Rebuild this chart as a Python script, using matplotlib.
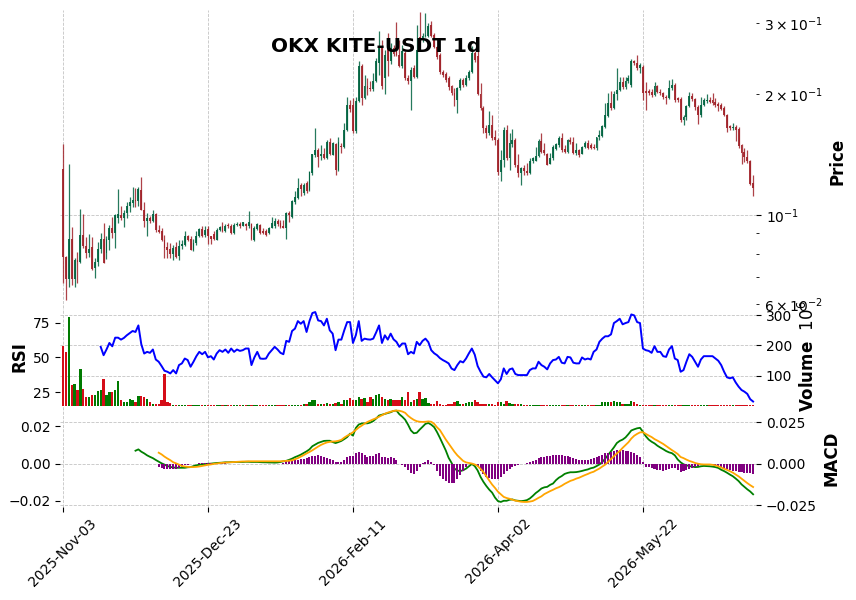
import numpy as np
import matplotlib
matplotlib.use("Agg")
import matplotlib.pyplot as plt

# OKX KITE-USDT daily candles, 2025-11-03 .. 2026-06-29
opens = [
    .1302, .0786, .0693, .0871, .0693, .0773, .0764, .0892, .0837, .0805,
    .0830, .0738, .0764, .0823, .0871, .0806, .0867, .0930, .0902, .0983,
    .1000, .0983, .1012, .1053, .1071, .1090, .1083, .1154, .1029, .0966,
    .0983, .0966, .1006, .0918, .0910, .0867, .0830, .0823, .0800, .0833,
    .0791, .0837, .0842, .0887, .0871, .0818, .0850, .0887, .0925, .0889,
    .0923, .0884, .0895, .0867, .0918, .0939, .0910, .0944, .0939, .0900,
    .0944, .0952, .0939, .0950, .0939, .0950, .0867, .0923, .0944, .0910,
    .0910, .0900, .0929, .0936, .0966, .0953, .0940, .0929, .1010, .0990,
    .1077, .1104, .1188, .1133, .1198, .1154, .1271, .1410, .1451, .1402,
    .1418, .1388, .1522, .1410, .1500, .1294, .1485, .1473, .1630, .1880,
    .1878, .1620, .1916, .2345, .1955, .2092, .2070, .2055, .2155, .2389,
    .2603, .2190, .2757, .2420, .2600, .2710, .2505, .2345, .2530, .2192,
    .2150, .2321, .2205, .2780, .2726, .2790, .2790, .2970, .2805, .2618,
    .2501, .2269, .2243, .2192, .2094, .2012, .1932, .2070, .2167, .2106,
    .2192, .2269, .2530, .2480, .2000, .1846, .1646, .1600, .1675, .1560,
    .1540, .1282, .1370, .1627, .1388, .1500, .1537, .1332, .1272, .1307,
    .1290, .1270, .1365, .1365, .1402, .1530, .1451, .1418, .1340, .1383,
    .1460, .1493, .1554, .1460, .1438, .1537, .1520, .1425, .1447, .1420,
    .1480, .1511, .1493, .1480, .1468, .1563, .1572, .1660, .1763, .1895,
    .1850, .2000, .2047, .2142, .2082, .2155, .2110, .2410, .2395, .2321,
    .2330, .2035, .2035, .2023, .1989, .2094, .2025, .2015, .1966, .1950,
    .2068, .2106, .1950, .1940, .1723, .1756, .1867, .1977, .1940, .1860,
    .1773, .1878, .1925, .1932, .1932, .1915, .1888, .1878, .1846, .1773,
    .1665, .1646, .1660, .1634, .1493, .1433, .1397, .1365, .1201,
]
highs = [
    .1502, .0792, .1339, .0933, .0782, .0809, .1035, .1006, .0881, .0897,
    .0881, .0782, .0857, .0902, .0955, .0887, .0944, .0989, .1003, .1161,
    .1053, .1029, .1077, .1109, .1174, .1167, .1174, .1243, .1077, .1012,
    .0994, .1029, .1012, .0944, .0928, .0892, .0857, .0852, .0842, .0857,
    .0867, .0867, .0910, .0892, .0885, .0871, .0910, .0928, .0939, .0936,
    .0939, .0887, .0910, .0926, .0940, .0962, .0947, .0953, .0947, .0953,
    .0958, .0962, .0962, .0953, .1023, .0953, .0936, .0953, .0947, .0930,
    .0925, .0934, .0990, .0985, .0977, .0972, .0972, .1016, .1020, .1090,
    .1148, .1234, .1204, .1204, .1215, .1287, .1416, .1649, .1466, .1497,
    .1466, .1537, .1550, .1517, .1507, .1567, .1511, .1692, .1962, .1930,
    .1950, .1970, .2410, .2375, .2232, .2190, .2150, .2255, .2460, .2875,
    .2730, .2580, .2835, .2680, .2650, .3022, .2730, .2655, .2560, .2230,
    .2340, .2360, .2970, .3199, .2840, .3180, .3000, .3040, .2830, .2640,
    .2530, .2290, .2270, .2220, .2110, .2070, .2082, .2190, .2190, .2230,
    .2300, .2640, .2560, .2570, .2126, .1867, .1675, .1810, .1773, .1627,
    .1550, .1451, .1660, .1675, .1595, .1633, .1550, .1418, .1320, .1332,
    .1350, .1385, .1397, .1480, .1545, .1595, .1507, .1425, .1425, .1493,
    .1513, .1570, .1595, .1493, .1545, .1563, .1563, .1511, .1460, .1485,
    .1528, .1537, .1507, .1500, .1567, .1627, .1675, .1895, .2010, .2030,
    .2030, .2321, .2200, .2205, .2200, .2230, .2440, .2431, .2501, .2385,
    .2362, .2140, .2060, .2060, .2142, .2106, .2055, .2025, .1989, .2167,
    .2175, .2126, .1970, .1970, .1773, .1878, .2025, .2008, .1950, .1878,
    .1970, .1950, .1997, .1970, .2012, .1950, .1915, .1899, .1862, .1783,
    .1675, .1694, .1675, .1656, .1502, .1468, .1451, .1370, .1257,
]
lows = [
    .0677, .0615, .0662, .0670, .0662, .0677, .0760, .0828, .0782, .0786,
    .0730, .0697, .0745, .0805, .0758, .0777, .0818, .0876, .0828, .0955,
    .0972, .0933, .0983, .1017, .1047, .1047, .1053, .1029, .0933, .0887,
    .0955, .0961, .0909, .0902, .0859, .0782, .0782, .0782, .0773, .0782,
    .0773, .0823, .0837, .0862, .0816, .0812, .0842, .0880, .0882, .0880,
    .0845, .0845, .0867, .0864, .0910, .0906, .0906, .0926, .0895, .0895,
    .0936, .0926, .0936, .0918, .0926, .0867, .0862, .0918, .0895, .0897,
    .0884, .0895, .0926, .0930, .0936, .0926, .0926, .0870, .0962, .0985,
    .1065, .1096, .1117, .1121, .1133, .1148, .1257, .1397, .1320, .1370,
    .1378, .1378, .1407, .1407, .1257, .1287, .1427, .1468, .1615, .1800,
    .1600, .1595, .1910, .1880, .1940, .1993, .2032, .2040, .2142, .2235,
    .2062, .2000, .2215, .2380, .2480, .2490, .2335, .2321, .2170, .2120,
    .1820, .2190, .2190, .2700, .2700, .2770, .2770, .2770, .2600, .2440,
    .2240, .2200, .2140, .2050, .1990, .1867, .1794, .2050, .2082, .2090,
    .2170, .2250, .2400, .1990, .1825, .1600, .1554, .1581, .1537, .1493,
    .1257, .1215, .1320, .1370, .1294, .1480, .1320, .1245, .1188, .1257,
    .1257, .1263, .1350, .1360, .1392, .1425, .1410, .1332, .1337, .1370,
    .1451, .1480, .1438, .1430, .1425, .1500, .1418, .1410, .1397, .1418,
    .1468, .1460, .1460, .1460, .1451, .1537, .1563, .1649, .1756, .1830,
    .1840, .1932, .2030, .2058, .2058, .2130, .2082, .2362, .2295, .2255,
    .1932, .1830, .1989, .1970, .1977, .2010, .1989, .1941, .1888, .1940,
    .2047, .1913, .1913, .1705, .1675, .1723, .1860, .1925, .1830, .1684,
    .1756, .1867, .1895, .1905, .1878, .1860, .1815, .1820, .1763, .1605,
    .1627, .1627, .1530, .1466, .1339, .1355, .1347, .1188, .1115,
]
closes = [
    .0786, .0693, .0871, .0693, .0773, .0764, .0892, .0837, .0805, .0823,
    .0734, .0764, .0823, .0871, .0760, .0871, .0930, .0902, .1000, .1006,
    .0983, .1012, .1053, .1077, .1090, .1083, .1161, .1029, .0966, .0983,
    .0966, .1006, .0918, .0907, .0867, .0828, .0818, .0800, .0828, .0787,
    .0837, .0847, .0887, .0867, .0818, .0850, .0887, .0923, .0887, .0918,
    .0884, .0870, .0871, .0918, .0935, .0910, .0940, .0936, .0900, .0944,
    .0952, .0939, .0958, .0936, .0958, .0870, .0926, .0947, .0903, .0903,
    .0892, .0929, .0953, .0966, .0947, .0934, .0929, .1010, .1000, .1083,
    .1110, .1170, .1161, .1188, .1148, .1282, .1416, .1451, .1397, .1418,
    .1388, .1522, .1416, .1507, .1294, .1522, .1473, .1630, .1880, .1840,
    .1620, .1916, .2345, .1955, .2092, .2055, .2055, .2160, .2410, .2603,
    .2090, .2505, .2420, .2600, .2520, .2505, .2345, .2555, .2192, .2150,
    .2295, .2205, .2574, .2726, .2790, .2805, .2955, .2790, .2618, .2473,
    .2269, .2230, .2167, .2082, .2012, .1932, .2070, .2167, .2106, .2192,
    .2269, .2530, .2431, .2000, .1846, .1646, .1600, .1675, .1554, .1537,
    .1282, .1370, .1627, .1388, .1507, .1537, .1332, .1270, .1307, .1290,
    .1270, .1365, .1385, .1402, .1530, .1438, .1425, .1332, .1383, .1473,
    .1502, .1554, .1451, .1438, .1537, .1520, .1425, .1447, .1410, .1480,
    .1511, .1468, .1468, .1468, .1563, .1581, .1662, .1773, .1895, .1850,
    .2000, .2047, .2142, .2082, .2155, .2190, .2410, .2385, .2320, .2362,
    .2015, .2015, .2008, .1989, .2094, .2020, .2010, .1963, .1950, .2068,
    .2106, .1932, .1932, .1723, .1756, .1867, .1977, .1940, .1853, .1773,
    .1878, .1932, .1932, .1915, .1895, .1878, .1867, .1835, .1773, .1646,
    .1646, .1660, .1627, .1485, .1430, .1397, .1363, .1194, .1170,
]
# volume in units of 1e6
volume_m = [
    198, 179, 295, 69, 74, 54, 124, 58, 30, 32,
    36, 38, 50, 54, 91, 36, 47, 47, 54, 82,
    22, 15, 13, 24, 19, 13, 35, 35, 30, 24,
    13, 8, 6, 8, 21, 105, 13, 10, 5.2, 4.1,
    4.0, 4.6, 3.5, 4.2, 4.5, 3.9, 3.6, 4.4, 5.1, 3.8,
    4.2, 4.9, 3.7, 3.0, 2.9, 3.2, 2.8, 3.1, 2.7, 3.3,
    2.9, 3.0, 2.8, 3.1, 4.8, 3.0, 2.9, 4.6, 3.1, 2.8,
    3.0, 3.2, 4.9, 2.9, 3.1, 2.8, 3.0, 5.2, 3.3, 4.7,
    5.1, 3.2, 3.4, 6.0, 8.0, 13, 19, 22, 6, 8,
    6, 10, 6, 8, 12, 14, 8, 19, 21, 28,
    22, 21, 30, 24, 27, 13, 30, 24, 36, 39,
    30, 24, 19, 24, 19, 21, 19, 32, 19, 46,
    13, 21, 24, 47, 24, 27, 10, 8, 6, 17,
    6, 4, 3.5, 8, 8, 13, 17, 6, 8, 10,
    13, 13, 21, 13, 8, 6, 6, 6, 6, 4,
    13, 13, 6, 17, 10, 8, 8, 6, 8, 5,
    5, 4, 4, 3.2, 3.0, 2.9, 3.1, 3.3, 2.8, 3.0,
    3.2, 2.9, 3.1, 3.0, 4.0, 4.2, 3.1, 4.0, 3.0, 2.9,
    3.1, 3.0, 3.2, 2.8, 3.3, 3.0, 13, 15, 13, 15,
    16, 13, 13, 8, 6, 8, 17, 13, 8, 4,
    4.2, 3.1, 3.0, 2.9, 3.2, 3.0, 2.8, 3.1, 4.3, 3.0,
    2.9, 3.2, 3.0, 4.1, 3.0, 2.8, 3.1, 2.9, 3.0, 3.2,
    2.9, 3.1, 3.0, 2.8, 3.0, 3.1, 2.9, 3.0, 3.2, 3.1,
    2.9, 3.0, 2.8, 3.1, 3.0, 3.2, 2.9, 4.2, 4.0,
]
# RSI(14), first value at candle 13
rsi_start = 13
rsi = [
    57.6, 51.6, 55.7, 60.4, 58.0, 64.2, 64.2, 62.8, 64.0, 65.9,
    67.5, 69.0, 68.3, 73.0, 59.5, 52.8, 54.0, 53.3, 55.7, 48.5,
    46.9, 43.8, 40.4, 39.7, 38.5, 40.9, 38.5, 44.5, 45.7, 49.2,
    48.1, 43.3, 46.9, 50.9, 54.0, 52.3, 54.0, 50.0, 50.9, 48.5,
    52.8, 55.2, 54.0, 55.7, 53.3, 56.4, 54.0, 55.7, 54.7, 55.2,
    56.4, 56.4, 44.5, 50.0, 54.0, 49.2, 49.0, 49.2, 52.8, 55.2,
    57.6, 55.7, 53.3, 52.3, 61.9, 61.2, 69.0, 70.7, 76.1, 74.2,
    76.1, 68.3, 76.1, 81.9, 82.6, 76.6, 76.1, 73.0, 77.8, 69.5,
    67.1, 55.2, 62.8, 62.8, 69.5, 75.4, 75.4, 60.4, 66.0, 76.1,
    61.9, 63.5, 63.0, 62.8, 63.5, 68.0, 73.0, 60.4, 65.9, 62.8,
    67.1, 63.0, 61.2, 57.6, 60.0, 60.0, 52.3, 54.0, 52.8, 61.2,
    58.8, 61.9, 63.5, 61.0, 55.2, 53.0, 51.6, 49.5, 48.1, 47.0,
    45.7, 42.0, 40.9, 44.5, 47.3, 46.4, 49.2, 53.0, 56.4, 52.0,
    43.8, 39.7, 36.2, 35.7, 38.1, 35.7, 33.5, 31.4, 34.3, 42.1,
    38.1, 41.4, 42.1, 38.1, 37.3, 37.3, 37.3, 37.3, 40.9, 42.1,
    42.1, 46.9, 44.5, 43.3, 41.4, 45.7, 48.1, 48.5, 50.4, 46.2,
    45.7, 50.4, 50.0, 46.2, 45.7, 45.7, 50.0, 48.5, 49.2, 48.5,
    54.0, 55.7, 61.2, 63.5, 65.2, 65.2, 66.6, 74.7, 76.1, 77.8,
    73.8, 74.7, 75.4, 80.9, 80.2, 75.4, 74.7, 56.4, 55.2, 54.7,
    53.3, 58.1, 54.0, 54.0, 50.9, 50.4, 55.7, 58.1, 49.2, 48.1,
    39.7, 40.9, 46.9, 52.3, 50.4, 46.9, 43.3, 48.5, 50.9, 50.9,
    50.9, 50.9, 49.2, 47.6, 44.5, 39.7, 35.7, 35.0, 35.7, 32.0,
    29.0, 26.6, 25.4, 23.8, 20.0, 18.3,
]
# MACD line, first value at candle 25
macd_start = 25
macd = [
    .0078, .0086, .0072, .0062, .0050, .0041, .0033, .0022, .0012, .0002,
    -.0006, -.0014, -.0020, -.0023, -.0025, -.0025, -.0025, -.0025, -.0022, -.0021,
    -.0015, -.0010, -.0007, -.0004, -.0002, -.0001, .0000, .0002, .0004, .0005,
    .0006, .0008, .0008, .0009, .0009, .0010, .0010, .0010, .0011, .0011,
    .0010, .0010, .0010, .0009, .0008, .0008, .0007, .0007, .0006, .0007,
    .0010, .0014, .0017, .0023, .0030, .0039, .0046, .0054, .0064, .0074,
    .0086, .0105, .0115, .0125, .0131, .0137, .0138, .0138, .0130, .0124,
    .0130, .0137, .0148, .0160, .0181, .0169, .0215, .0236, .0242, .0243,
    .0243, .0248, .0257, .0272, .0290, .0295, .0300, .0305, .0310, .0318,
    .0320, .0298, .0283, .0265, .0235, .0200, .0183, .0186, .0205, .0222,
    .0240, .0245, .0235, .0220, .0190, .0155, .0118, .0080, .0035, .0005,
    -.0030, -.0042, -.0045, -.0040, -.0030, -.0016, -.0002, -.0015, -.0041, -.0080,
    -.0110, -.0135, -.0157, -.0175, -.0205, -.0226, -.0231, -.0224, -.0224, -.0218,
    -.0216, -.0222, -.0224, -.0226, -.0224, -.0220, -.0210, -.0195, -.0178, -.0165,
    -.0150, -.0143, -.0140, -.0128, -.0120, -.0100, -.0085, -.0075, -.0062, -.0056,
    -.0052, -.0052, -.0051, -.0048, -.0044, -.0039, -.0035, -.0028, -.0024, -.0015,
    -.0005, .0010, .0030, .0052, .0075, .0098, .0124, .0137, .0145, .0158,
    .0178, .0200, .0207, .0213, .0216, .0192, .0165, .0145, .0132, .0122,
    .0108, .0097, .0087, .0076, .0068, .0063, .0050, .0025, .0008, -.0004,
    -.0010, -.0015, -.0018, -.0021, -.0020, -.0016, -.0014, -.0015, -.0016, -.0018,
    -.0021, -.0026, -.0037, -.0045, -.0055, -.0066, -.0076, -.0090, -.0105, -.0125,
    -.0140, -.0155, -.0168, -.0185,
]
# signal line and histogram, first value at candle 33
signal_start = 33
signal = [
    .0059, .0050, .0038, .0028, .0019, .0008, .0002, -.0005, -.0012, -.0015,
    -.0017, -.0018, -.0018, -.0017, -.0015, -.0012, -.0009, -.0006, -.0004, -.0001,
    .0001, .0003, .0005, .0006, .0007, .0008, .0009, .0010, .0011, .0012,
    .0012, .0013, .0013, .0013, .0013, .0013, .0013, .0013, .0013, .0013,
    .0013, .0013, .0013, .0014, .0015, .0016, .0018, .0024, .0030, .0038,
    .0046, .0055, .0063, .0072, .0082, .0092, .0101, .0108, .0114, .0117,
    .0119, .0120, .0123, .0128, .0140, .0150, .0158, .0169, .0181, .0194,
    .0204, .0215, .0224, .0231, .0238, .0244, .0252, .0260, .0268, .0274,
    .0279, .0283, .0285, .0284, .0280, .0273, .0257, .0245, .0235, .0228,
    .0225, .0224, .0225, .0227, .0225, .0214, .0195, .0180, .0155, .0130,
    .0108, .0085, .0064, .0045, .0030, .0015, .0007, .0004, .0001, -.0004,
    -.0012, -.0028, -.0045, -.0068, -.0090, -.0112, -.0130, -.0150, -.0164, -.0178,
    -.0184, -.0188, -.0193, -.0198, -.0201, -.0204, -.0205, -.0205, -.0203, -.0200,
    -.0192, -.0183, -.0175, -.0163, -.0155, -.0147, -.0140, -.0132, -.0126, -.0118,
    -.0108, -.0100, -.0092, -.0087, -.0080, -.0075, -.0068, -.0061, -.0055, -.0048,
    -.0043, -.0034, -.0026, -.0015, -.0005, .0010, .0025, .0040, .0055, .0068,
    .0085, .0100, .0115, .0135, .0150, .0160, .0168, .0169, .0160, .0151,
    .0143, .0132, .0124, .0115, .0106, .0095, .0084, .0073, .0063, .0052,
    .0036, .0030, .0022, .0015, .0010, .0004, .0000, -.0003, -.0004, -.0004,
    -.0004, -.0006, -.0009, -.0014, -.0020, -.0027, -.0033, -.0040, -.0048, -.0058,
    -.0068, -.0080, -.0092, -.0104, -.0115, -.0125,
]
hist = [
    -.0018, -.0025, -.0029, -.0029, -.0029, -.0029, -.0027, -.0022, -.0017, -.0009,
    -.0005, -.0003, -.0002, .0001, .0003, .0004, .0005, .0005, .0004, .0004,
    .0003, .0003, .0002, .0002, .0001, .0001, .0001, .0000, .0000, -.0001,
    .0000, .0000, -.0001, .0000, -.0001, -.0001, -.0002, -.0002, -.0002, -.0002,
    -.0002, -.0002, -.0001, .0005, .0012, .0015, .0018, .0020, .0022, .0024,
    .0026, .0030, .0035, .0042, .0044, .0046, .0040, .0037, .0033, .0027,
    .0022, .0009, .0009, .0009, .0020, .0037, .0040, .0040, .0055, .0064,
    .0055, .0046, .0037, .0040, .0042, .0050, .0059, .0037, .0037, .0033,
    .0037, .0030, .0020, -.0004, -.0009, -.0020, -.0033, -.0051, -.0055, -.0037,
    -.0015, .0002, .0009, .0018, .0008, -.0009, -.0037, -.0064, -.0082, -.0095,
    -.0106, -.0106, -.0101, -.0082, -.0059, -.0040, -.0018, -.0004, -.0001, -.0002,
    -.0018, -.0037, -.0055, -.0070, -.0077, -.0082, -.0082, -.0082, -.0073, -.0055,
    -.0040, -.0030, -.0020, -.0012, -.0009, -.0004, -.0001, .0003, .0008, .0015,
    .0022, .0030, .0035, .0037, .0040, .0043, .0046, .0049, .0047, .0046,
    .0043, .0040, .0037, .0031, .0027, .0022, .0022, .0022, .0022, .0027,
    .0031, .0035, .0042, .0048, .0055, .0059, .0064, .0070, .0073, .0073,
    .0071, .0070, .0068, .0064, .0059, .0048, .0035, .0010, -.0015, -.0018,
    -.0022, -.0028, -.0032, -.0035, -.0037, -.0035, -.0031, -.0022, -.0022, -.0033,
    -.0046, -.0040, -.0033, -.0027, -.0022, -.0015, -.0010, -.0006, -.0005, -.0005,
    -.0008, -.0009, -.0012, -.0015, -.0020, -.0022, -.0027, -.0033, -.0037, -.0040,
    -.0046, -.0046, -.0048, -.0051, -.0051, -.0055,
]
tick_pos = [0, 50, 100, 150, 200]
tick_labels = ["2025-Nov-03", "2025-Dec-23", "2026-Feb-11", "2026-Apr-02", "2026-May-22"]

o = np.array(opens)
h = np.array(highs)
l = np.array(lows)
c = np.array(closes)
vol = np.array(volume_m)
n = len(c)
x = np.arange(n)
up = c >= o

UP, DOWN = '#006340', '#a02128'
VUP, VDOWN = '#007a00', '#d50d18'
GRID = dict(color='#c4c4c4', linestyle='--', linewidth=0.6)

fig = plt.figure(figsize=(8.56, 6.0), dpi=100)
W, H = 856.0, 600.0
left, width = 60.1 / W, 695.9 / W
ax_p = fig.add_axes([left, 1 - 307.6 / H, width, 297.6 / H])
ax_v = fig.add_axes([left, 1 - 406.0 / H, width, 98.4 / H], sharex=ax_p)
ax_m = fig.add_axes([left, 1 - 506.5 / H, width, 100.5 / H], sharex=ax_p)

# price panel
ccol = np.where(up, UP, DOWN)
ax_p.set_yscale('log')
ax_p.vlines(x, l, h, colors=ccol, linewidth=0.9, alpha=0.85)
ax_p.bar(x, np.abs(c - o), bottom=np.minimum(o, c), width=0.65,
         color=ccol, linewidth=0, alpha=0.9)
ax_p.set_ylim(0.0588, 0.3237)

# volume + RSI panel
ax_v.bar(x, vol, width=0.8, color=np.where(up, VUP, VDOWN), linewidth=0)
ax_v.set_ylim(0.3 * vol.min(), 1.1 * vol.max())
ax_r = ax_v.twinx()
ax_r.plot(np.arange(rsi_start, rsi_start + len(rsi)), rsi, color='blue', linewidth=1.4)

# MACD panel
ax_m.plot(np.arange(macd_start, macd_start + len(macd)), macd, color='green', linewidth=1.3)
ax_s = ax_m.twinx()
xs = np.arange(signal_start, signal_start + len(signal))
ax_s.bar(xs, hist, width=0.7, color='purple', linewidth=0)
ax_s.plot(xs, signal, color='orange', linewidth=1.3)

for a in (ax_p, ax_v, ax_m):
    a.yaxis.tick_right()
    a.grid(True, which='major', **GRID)
    a.set_axisbelow(True)
for a in (ax_r, ax_s):
    a.yaxis.tick_left()
for a in (ax_p, ax_v, ax_m, ax_r, ax_s):
    for s in a.spines.values():
        s.set_visible(False)
    a.tick_params(labelsize=10)

ax_p.set_xlim(-1, n)
ax_m.set_xticks(tick_pos)
ax_m.set_xticklabels(tick_labels, rotation=45)
ax_p.tick_params(axis='x', bottom=False, labelbottom=False)
ax_v.tick_params(axis='x', bottom=False, labelbottom=False)

fig.text(376 / W, 1 - 47 / H, 'OKX KITE-USDT 1d', ha='center', va='center',
         fontsize=14.4, fontweight='bold')
fig.text(838 / W, 1 - 161 / H, 'Price', rotation=90, ha='center', va='center',
         fontsize=12, fontweight='bold')
fig.text(20 / W, 1 - 357 / H, 'RSI', rotation=90, ha='center', va='center',
         fontsize=12, fontweight='bold')
fig.text(808 / W, 1 - 356 / H, 'Volume  $10^{6}$', rotation=90, ha='center',
         va='center', fontsize=12, fontweight='bold')
fig.text(831 / W, 1 - 458 / H, 'MACD', rotation=90, ha='center', va='center',
         fontsize=12, fontweight='bold')

fig.savefig('out.png', dpi=100)
